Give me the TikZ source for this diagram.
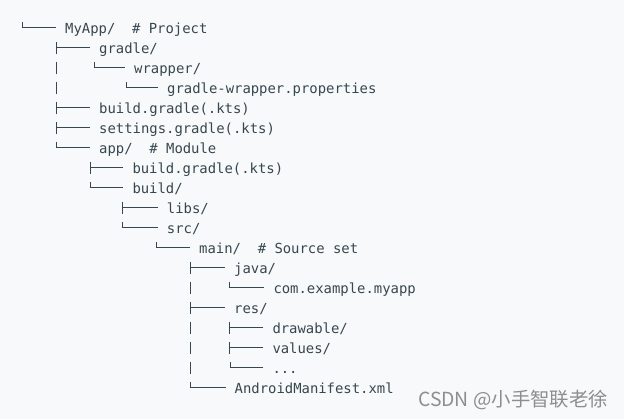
\documentclass[tikz,border=0pt]{standalone}
\usepackage{fontspec}
\newfontfamily\treefont{DejaVu Sans Mono}
\newfontfamily\cjk{Noto Sans CJK SC}
\definecolor{codebg}{HTML}{F8F9FA}
\definecolor{codefg}{HTML}{37474F}
\definecolor{markfg}{HTML}{8E8E8E}
\tikzset{
	entry/.style={anchor=base west, inner sep=0pt, text=codefg, font=\fontsize{13.9}{20}\treefont},
	branch/.style={draw=codefg, line width=0.9pt, line cap=butt},
}
\begin{document}
\begin{tikzpicture}[x=1pt, y=-1pt, line join=miter]
			\fill[codebg] (0,0) rectangle (624,419);
			\useasboundingbox (0,0) rectangle (624,419);
			
			% rows: row/glyph x/text x/kind (T = tee, L = last)/name
			\foreach \n/\gx/\tx/\k/\name in {
				1/22.3/66/L/{MyApp/\ \ \# Project},
				2/56/100/T/{gradle/},
				3/94.3/135/L/{wrapper/},
				4/126.7/168/L/{gradle-wrapper.properties},
				5/56/100/T/{build.gradle(.kts)},
				6/56/100/T/{settings.gradle(.kts)},
				7/56/100/L/{app/\ \ \# Module},
				8/90/133.3/T/{build.gradle(.kts)},
				9/90/133.3/L/{build/},
				10/122.3/167.7/T/{libs/},
				11/122.3/167.7/L/{src/},
				12/156.7/200/L/{main/\ \ \# Source set},
				13/190.7/235/T/{java/},
				14/229.3/274.3/L/{com.example.myapp},
				15/190.7/235/T/{res/},
				16/229.3/273.3/T/{drawable/},
				17/229.3/273.3/T/{values/},
				18/230/273.3/L/{...},
				19/190.7/235.5/L/{AndroidManifest.xml}}
			{
				\pgfmathsetmacro{\yb}{13.5 + 20*\n}
				\node[entry] (e\n) at (\tx-1, \yb) {\name};
				\if\k T
					\draw[branch] (\gx, \yb-11.5) -- (\gx, \yb+1)
					(\gx, \yb-5.7) -- ([shift={(-9pt,5.7pt)}]e\n.base west);
				\else
					\draw[branch] (\gx, \yb-11.5) |- ([shift={(-9pt,5.7pt)}]e\n.base west);
				\fi
			}
			
			% vertical bars carried on through the rows
			\foreach \n/\bx in {3/56.7, 4/56.7, 14/190.7, 16/190.7, 17/190.7, 18/190.7}
			{
				\pgfmathsetmacro{\yb}{13.5 + 20*\n}
				\draw[branch] (\bx, \yb-11.5) -- (\bx, \yb+1);
			}
			
			\node[anchor=base west, inner sep=0pt, text=markfg, font=\fontsize{19.4}{22}\cjk] (mark) at (418, 407) {CSDN @小手智联老徐};
\end{tikzpicture}
\end{document}
